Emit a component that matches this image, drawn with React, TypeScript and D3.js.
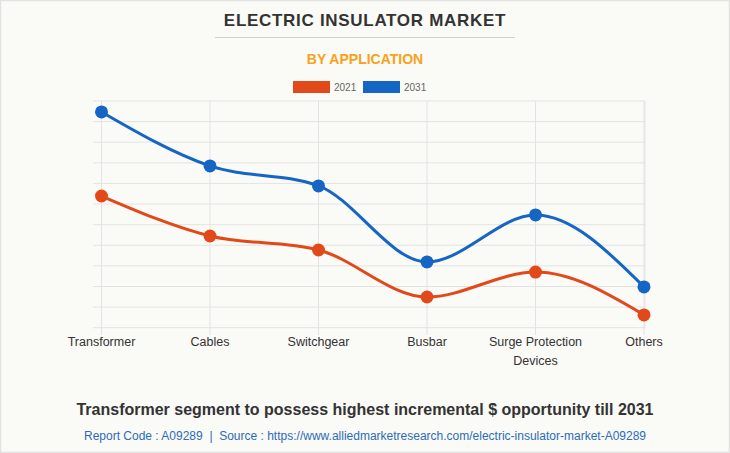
import React from 'react';
import * as d3 from 'd3';

const categories = ['Transformer', 'Cables', 'Switchgear', 'Busbar', 'Surge Protection\nDevices', 'Others'];
const values2021 = [6.39, 4.45, 3.77, 1.49, 2.7, 0.62];
const values2031 = [10.47, 7.85, 6.88, 3.19, 5.47, 1.98];
const gridTicks = d3.range(0, 12);

const series = [
  { name: '2021', color: '#e2491a', values: values2021 },
  { name: '2031', color: '#1565c4', values: values2031 },
];

const W = 730;
const H = 453;

const App: React.FC = () => {
  const x = d3.scalePoint<string>().domain(categories).range([101.5, 644]);
  const y = d3.scaleLinear().domain([0, 11]).range([327.7, 101]);

  const line = d3.line<number>()
    .x((_, i) => x(categories[i])!)
    .y(d => y(d))
    .curve(d3.curveMonotoneX);

  const font = 'Arial, "Liberation Sans", sans-serif';

  return (
    <div style={{ position: 'fixed', left: 0, top: 0 }}>
      <svg width={W} height={H} style={{ display: 'block' }} fontFamily={font}>
        <rect x={0.5} y={0.5} width={W - 1} height={H - 1} fill="#fafaf6" stroke="#e2e2e2" strokeWidth={1.5} />

        {/* titles */}
        <text x={365} y={26} textAnchor="middle" fontSize={17} fontWeight="bold" fill="#333" letterSpacing={0.7}>
          ELECTRIC INSULATOR MARKET
        </text>
        <line x1={215} x2={515} y1={37.5} y2={37.5} stroke="#cfcfcf" />
        <text x={365} y={64} textAnchor="middle" fontSize={14} fontWeight="bold" fill="#f7a21b">
          BY APPLICATION
        </text>

        {/* legend */}
        {series.map((s, i) => (
          <g key={s.name} transform={`translate(${293 + i * 70},81)`}>
            <rect width={37} height={12} fill={s.color} />
            <text x={41} y={10} fontSize={10} fill="#666">{s.name}</text>
          </g>
        ))}

        {/* grid */}
        {gridTicks.map(t => (
          <line key={t} x1={93} x2={645} y1={y(t)} y2={y(t)} stroke="#e3e3e3" />
        ))}
        {categories.map(c => (
          <line key={c} x1={x(c)} x2={x(c)} y1={101} y2={335} stroke="#e3e3e3" />
        ))}
        <line x1={645} x2={645} y1={101} y2={327.7} stroke="#e3e3e3" />

        {/* x labels */}
        {categories.map(c => (
          <text key={c} x={x(c)} y={346} textAnchor="middle" fontSize={12.5} fill="#333">
            {c.split('\n').map((part, j) => (
              <tspan key={j} x={x(c)} dy={j === 0 ? 0 : 19}>{part}</tspan>
            ))}
          </text>
        ))}

        {/* series */}
        {series.map(s => (
          <g key={s.name}>
            <path d={line(s.values) ?? ''} fill="none" stroke={s.color} strokeWidth={3} />
            {s.values.map((v, i) => (
              <circle key={i} cx={x(categories[i])} cy={y(v)} r={6.5} fill={s.color} />
            ))}
          </g>
        ))}

        {/* footer */}
        <text x={365} y={415} textAnchor="middle" fontSize={16} fontWeight="bold" fill="#333">
          Transformer segment to possess highest incremental $ opportunity till 2031
        </text>
        <text x={365} y={440} textAnchor="middle" fontSize={12} fill="#2b6cb8" style={{ whiteSpace: 'pre' }}>
          {'Report Code : A09289  |  Source : https://www.alliedmarketresearch.com/electric-insulator-market-A09289'}
        </text>
      </svg>
    </div>
  );
};

export default App;
